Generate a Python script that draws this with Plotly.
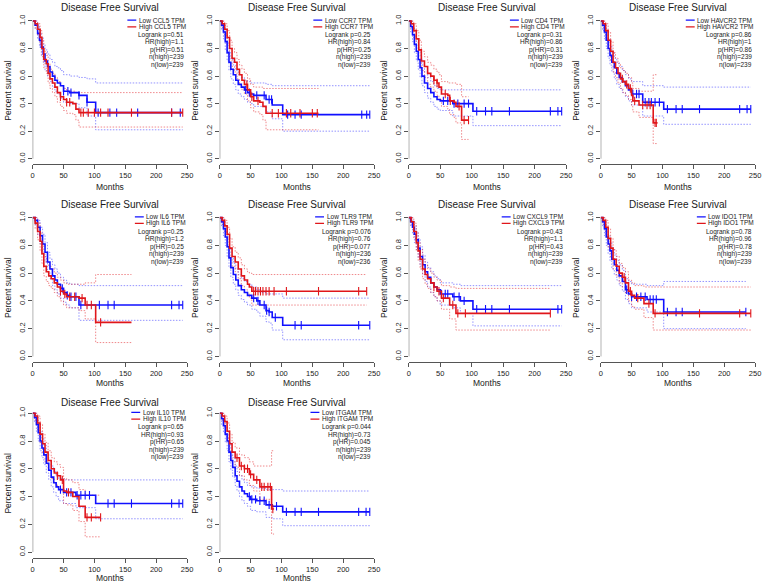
import plotly.graph_objects as go

# Kaplan-Meier "Disease Free Survival" panels (GEPIA style).
GENES = ["CCL5", "CCR7", "CD4", "HAVCR2", "IL6", "TLR9", "CXCL9", "IDO1", "IL10", "ITGAM"]

LOGRANK_P = ["0.51", "0.25", "0.31", "0.86", "0.25", "0.076", "0.43", "0.78", "0.65", "0.044"]
HR_HIGH = ["1.1", "0.84", "0.86", "1", "1.2", "0.76", "1.1", "0.96", "0.93", "0.73"]
P_HR = ["0.51", "0.25", "0.31", "0.86", "0.25", "0.077", "0.43", "0.78", "0.65", "0.045"]
N_HIGH = [239, 239, 239, 239, 239, 236, 239, 239, 239, 239]
N_LOW = [239, 239, 239, 239, 239, 236, 239, 239, 239, 239]

X_TICKS = [0, 50, 100, 150, 200, 250]
Y_TICKS = [0.0, 0.2, 0.4, 0.6, 0.8, 1.0]
Y_TICK_TEXT = ["0.0", "0.2", "0.4", "0.6", "0.8", "1.0"]

# t = months, s = survival, up/dn = 95% CI, cens = censoring times
CCL5_LOW = dict(
    t=[0, 4, 8, 11, 14, 17, 20, 24, 28, 32, 36, 40, 45, 50, 60, 75, 88, 102, 243],
    s=[1.0, 0.97, 0.91, 0.86, 0.81, 0.76, 0.71, 0.67, 0.63, 0.60, 0.57, 0.55, 0.53, 0.49, 0.48, 0.46, 0.41, 0.335, 0.335],
    up=[1.0, 1.0, 0.96, 0.92, 0.88, 0.83, 0.79, 0.76, 0.72, 0.70, 0.67, 0.66, 0.64, 0.61, 0.60, 0.59, 0.58, 0.55, 0.55],
    dn=[1.0, 0.94, 0.87, 0.81, 0.75, 0.70, 0.64, 0.60, 0.56, 0.52, 0.49, 0.47, 0.44, 0.41, 0.40, 0.37, 0.31, 0.21, 0.21],
    cens=[50, 57, 62, 75, 88, 106, 125, 136, 170, 225, 239],
)
CCL5_HIGH = dict(
    t=[0, 4, 8, 12, 15, 18, 22, 25, 28, 32, 36, 40, 45, 50, 55, 65, 70, 75, 243],
    s=[1.0, 0.98, 0.94, 0.88, 0.80, 0.72, 0.69, 0.62, 0.58, 0.55, 0.52, 0.48, 0.45, 0.43, 0.41, 0.40, 0.36, 0.335, 0.335],
    up=[1.0, 1.0, 0.98, 0.93, 0.86, 0.78, 0.75, 0.69, 0.65, 0.62, 0.59, 0.56, 0.53, 0.51, 0.49, 0.49, 0.48, 0.48, 0.48],
    dn=[1.0, 0.95, 0.90, 0.83, 0.74, 0.66, 0.62, 0.55, 0.51, 0.48, 0.45, 0.41, 0.38, 0.35, 0.33, 0.32, 0.28, 0.23, 0.23],
    cens=[45, 55, 60, 78, 82, 90, 100, 110, 122, 160, 225, 243],
)
CCR7_LOW = dict(
    t=[0, 3, 6, 9, 12, 15, 18, 22, 26, 30, 35, 40, 45, 50, 55, 75, 85, 102, 243],
    s=[1.0, 0.97, 0.92, 0.85, 0.77, 0.70, 0.65, 0.61, 0.57, 0.54, 0.52, 0.50, 0.48, 0.47, 0.46, 0.43, 0.39, 0.32, 0.32],
    up=[1.0, 1.0, 0.97, 0.91, 0.84, 0.77, 0.72, 0.68, 0.64, 0.61, 0.59, 0.57, 0.56, 0.55, 0.55, 0.54, 0.53, 0.53, 0.53],
    dn=[1.0, 0.94, 0.87, 0.79, 0.71, 0.64, 0.58, 0.54, 0.50, 0.47, 0.45, 0.43, 0.41, 0.40, 0.38, 0.34, 0.29, 0.20, 0.20],
    cens=[42, 48, 60, 72, 80, 84, 110, 122, 132, 230, 238, 243],
)
CCR7_HIGH = dict(
    t=[0, 4, 8, 12, 16, 20, 24, 28, 32, 36, 40, 45, 50, 55, 65, 70, 75, 160],
    s=[1.0, 0.98, 0.94, 0.88, 0.80, 0.73, 0.70, 0.65, 0.61, 0.57, 0.54, 0.50, 0.45, 0.42, 0.41, 0.38, 0.33, 0.33],
    up=[1.0, 1.0, 0.98, 0.93, 0.86, 0.80, 0.77, 0.72, 0.68, 0.65, 0.62, 0.58, 0.54, 0.52, 0.52, 0.51, 0.51, 0.51],
    dn=[1.0, 0.95, 0.90, 0.83, 0.74, 0.67, 0.63, 0.58, 0.54, 0.50, 0.47, 0.42, 0.37, 0.34, 0.32, 0.28, 0.21, 0.21],
    cens=[44, 52, 62, 85, 95, 108, 115, 130, 150, 158],
)
CD4_LOW = dict(
    t=[0, 3, 6, 9, 12, 15, 18, 21, 25, 30, 35, 40, 45, 50, 70, 102, 243],
    s=[1.0, 0.96, 0.90, 0.83, 0.78, 0.72, 0.66, 0.60, 0.55, 0.51, 0.48, 0.45, 0.43, 0.42, 0.40, 0.345, 0.345],
    up=[1.0, 1.0, 0.95, 0.89, 0.85, 0.79, 0.74, 0.68, 0.63, 0.59, 0.56, 0.53, 0.51, 0.50, 0.50, 0.50, 0.50],
    dn=[1.0, 0.92, 0.85, 0.77, 0.71, 0.65, 0.59, 0.53, 0.48, 0.44, 0.41, 0.38, 0.36, 0.35, 0.31, 0.24, 0.24],
    cens=[55, 62, 72, 78, 88, 95, 108, 122, 132, 160, 225, 237, 243],
)
CD4_HIGH = dict(
    t=[0, 4, 8, 12, 16, 20, 25, 30, 35, 40, 45, 48, 52, 62, 65, 72, 75, 84, 95],
    s=[1.0, 0.98, 0.93, 0.87, 0.79, 0.71, 0.67, 0.62, 0.60, 0.57, 0.55, 0.52, 0.47, 0.46, 0.42, 0.41, 0.38, 0.28, 0.28],
    up=[1.0, 1.0, 0.98, 0.93, 0.86, 0.78, 0.74, 0.70, 0.68, 0.65, 0.63, 0.61, 0.56, 0.55, 0.55, 0.55, 0.54, 0.45, 0.45],
    dn=[1.0, 0.95, 0.88, 0.81, 0.72, 0.64, 0.59, 0.54, 0.52, 0.49, 0.46, 0.43, 0.38, 0.36, 0.32, 0.30, 0.26, 0.14, 0.14],
    cens=[40, 45, 58, 66, 80, 88, 95],
)
HAVCR2_LOW = dict(
    t=[0, 3, 6, 9, 12, 15, 18, 22, 26, 30, 35, 40, 45, 50, 68, 102, 243],
    s=[1.0, 0.97, 0.92, 0.86, 0.80, 0.75, 0.70, 0.66, 0.62, 0.59, 0.56, 0.53, 0.50, 0.47, 0.41, 0.36, 0.36],
    up=[1.0, 1.0, 0.97, 0.92, 0.87, 0.82, 0.77, 0.73, 0.70, 0.67, 0.64, 0.61, 0.58, 0.56, 0.53, 0.52, 0.52],
    dn=[1.0, 0.93, 0.87, 0.80, 0.73, 0.68, 0.63, 0.58, 0.54, 0.51, 0.48, 0.45, 0.42, 0.39, 0.31, 0.25, 0.25],
    cens=[52, 58, 62, 72, 78, 82, 88, 95, 108, 122, 132, 160, 225, 237, 243],
)
HAVCR2_HIGH = dict(
    t=[0, 4, 8, 12, 16, 20, 24, 28, 32, 36, 40, 45, 50, 52, 62, 85, 92],
    s=[1.0, 0.98, 0.93, 0.86, 0.78, 0.70, 0.66, 0.62, 0.58, 0.56, 0.54, 0.51, 0.46, 0.42, 0.39, 0.26, 0.26],
    up=[1.0, 1.0, 0.98, 0.92, 0.85, 0.77, 0.73, 0.69, 0.66, 0.64, 0.62, 0.59, 0.55, 0.51, 0.49, 0.61, 0.61],
    dn=[1.0, 0.95, 0.88, 0.80, 0.71, 0.63, 0.59, 0.55, 0.51, 0.48, 0.46, 0.43, 0.38, 0.34, 0.30, 0.11, 0.11],
    cens=[35, 42, 48, 55, 68, 75, 80, 88, 90],
)
IL6_LOW = dict(
    t=[0, 4, 8, 12, 16, 20, 24, 28, 32, 36, 40, 45, 50, 55, 60, 75, 243],
    s=[1.0, 0.98, 0.93, 0.87, 0.81, 0.75, 0.68, 0.63, 0.58, 0.55, 0.52, 0.49, 0.46, 0.44, 0.43, 0.37, 0.37],
    up=[1.0, 1.0, 0.98, 0.93, 0.88, 0.82, 0.75, 0.70, 0.66, 0.63, 0.60, 0.57, 0.55, 0.53, 0.52, 0.51, 0.51],
    dn=[1.0, 0.95, 0.88, 0.81, 0.74, 0.68, 0.61, 0.56, 0.51, 0.48, 0.45, 0.42, 0.39, 0.37, 0.35, 0.26, 0.26],
    cens=[48, 56, 62, 70, 78, 108, 122, 132, 225, 237, 243],
)
IL6_HIGH = dict(
    t=[0, 4, 8, 12, 15, 18, 22, 26, 30, 35, 40, 45, 50, 55, 75, 85, 102, 160],
    s=[1.0, 0.96, 0.90, 0.83, 0.74, 0.65, 0.61, 0.58, 0.56, 0.53, 0.50, 0.47, 0.45, 0.43, 0.42, 0.37, 0.245, 0.245],
    up=[1.0, 1.0, 0.96, 0.89, 0.81, 0.72, 0.68, 0.65, 0.63, 0.60, 0.57, 0.55, 0.53, 0.52, 0.52, 0.53, 0.59, 0.59],
    dn=[1.0, 0.92, 0.84, 0.76, 0.67, 0.58, 0.54, 0.51, 0.49, 0.46, 0.43, 0.40, 0.37, 0.35, 0.33, 0.27, 0.10, 0.10],
    cens=[45, 52, 60, 68, 80, 88, 95, 110],
)
TLR9_LOW = dict(
    t=[0, 3, 6, 9, 12, 15, 18, 22, 26, 30, 35, 40, 45, 52, 60, 65, 75, 80, 85, 102, 243],
    s=[1.0, 0.97, 0.92, 0.86, 0.79, 0.71, 0.64, 0.59, 0.55, 0.51, 0.48, 0.46, 0.44, 0.42, 0.40, 0.37, 0.33, 0.32, 0.28, 0.225, 0.225],
    up=[1.0, 1.0, 0.97, 0.92, 0.86, 0.78, 0.71, 0.67, 0.63, 0.59, 0.56, 0.54, 0.52, 0.50, 0.48, 0.46, 0.45, 0.45, 0.45, 0.42, 0.42],
    dn=[1.0, 0.94, 0.87, 0.80, 0.72, 0.64, 0.57, 0.52, 0.48, 0.44, 0.41, 0.39, 0.37, 0.34, 0.32, 0.29, 0.25, 0.24, 0.19, 0.12, 0.12],
    cens=[55, 62, 72, 76, 80, 90, 122, 132, 225, 243],
)
TLR9_HIGH = dict(
    t=[0, 4, 8, 12, 16, 20, 25, 30, 35, 40, 45, 48, 52, 238],
    s=[1.0, 0.98, 0.94, 0.88, 0.78, 0.72, 0.68, 0.63, 0.58, 0.55, 0.52, 0.50, 0.47, 0.47],
    up=[1.0, 1.0, 0.98, 0.93, 0.85, 0.79, 0.75, 0.71, 0.66, 0.63, 0.61, 0.60, 0.59, 0.59],
    dn=[1.0, 0.95, 0.90, 0.83, 0.72, 0.65, 0.61, 0.56, 0.51, 0.48, 0.45, 0.42, 0.37, 0.37],
    cens=[55, 58, 62, 66, 70, 75, 80, 88, 108, 160, 225, 238],
)
CXCL9_LOW = dict(
    t=[0, 3, 6, 9, 12, 15, 18, 22, 26, 30, 35, 40, 45, 50, 70, 82, 102, 243],
    s=[1.0, 0.97, 0.93, 0.88, 0.84, 0.78, 0.72, 0.66, 0.61, 0.57, 0.53, 0.50, 0.48, 0.45, 0.43, 0.40, 0.34, 0.34],
    up=[1.0, 1.0, 0.98, 0.94, 0.90, 0.85, 0.79, 0.73, 0.68, 0.64, 0.61, 0.58, 0.56, 0.53, 0.52, 0.51, 0.51, 0.51],
    dn=[1.0, 0.94, 0.88, 0.82, 0.77, 0.71, 0.65, 0.59, 0.54, 0.50, 0.46, 0.43, 0.40, 0.37, 0.35, 0.31, 0.22, 0.22],
    cens=[52, 58, 62, 72, 80, 88, 108, 122, 132, 160, 237, 243],
)
CXCL9_HIGH = dict(
    t=[0, 4, 8, 12, 15, 18, 22, 26, 30, 35, 40, 45, 52, 65, 75, 225],
    s=[1.0, 0.97, 0.90, 0.82, 0.76, 0.70, 0.63, 0.59, 0.56, 0.53, 0.50, 0.47, 0.42, 0.37, 0.31, 0.31],
    up=[1.0, 1.0, 0.96, 0.89, 0.83, 0.77, 0.70, 0.66, 0.63, 0.60, 0.57, 0.55, 0.51, 0.50, 0.49, 0.49],
    dn=[1.0, 0.94, 0.85, 0.76, 0.69, 0.63, 0.56, 0.52, 0.49, 0.46, 0.43, 0.40, 0.34, 0.27, 0.19, 0.19],
    cens=[40, 48, 55, 70, 78, 90, 225],
)
IDO1_LOW = dict(
    t=[0, 3, 6, 9, 12, 15, 18, 22, 26, 30, 35, 40, 45, 50, 75, 102, 235],
    s=[1.0, 0.97, 0.92, 0.86, 0.81, 0.76, 0.70, 0.66, 0.62, 0.58, 0.54, 0.48, 0.45, 0.43, 0.41, 0.32, 0.32],
    up=[1.0, 1.0, 0.97, 0.92, 0.87, 0.82, 0.77, 0.73, 0.69, 0.66, 0.62, 0.56, 0.54, 0.52, 0.51, 0.54, 0.54],
    dn=[1.0, 0.94, 0.87, 0.80, 0.74, 0.69, 0.63, 0.59, 0.55, 0.51, 0.47, 0.41, 0.38, 0.35, 0.32, 0.20, 0.20],
    cens=[42, 50, 58, 65, 72, 80, 85, 90, 108, 122, 132, 235],
)
IDO1_HIGH = dict(
    t=[0, 4, 8, 12, 16, 20, 25, 30, 35, 40, 45, 50, 55, 70, 85, 243],
    s=[1.0, 0.98, 0.93, 0.85, 0.78, 0.70, 0.65, 0.60, 0.57, 0.53, 0.47, 0.44, 0.42, 0.38, 0.31, 0.31],
    up=[1.0, 1.0, 0.98, 0.92, 0.85, 0.77, 0.72, 0.67, 0.64, 0.61, 0.55, 0.53, 0.51, 0.50, 0.50, 0.50],
    dn=[1.0, 0.95, 0.88, 0.79, 0.71, 0.63, 0.58, 0.53, 0.50, 0.46, 0.40, 0.36, 0.34, 0.28, 0.19, 0.19],
    cens=[38, 48, 60, 78, 88, 160, 225, 243],
)
IL10_LOW = dict(
    t=[0, 3, 6, 9, 12, 15, 18, 22, 26, 30, 34, 38, 42, 50, 70, 102, 243],
    s=[1.0, 0.97, 0.92, 0.86, 0.80, 0.75, 0.70, 0.64, 0.59, 0.54, 0.50, 0.47, 0.45, 0.43, 0.41, 0.35, 0.35],
    up=[1.0, 1.0, 0.97, 0.92, 0.87, 0.82, 0.77, 0.71, 0.66, 0.62, 0.58, 0.55, 0.53, 0.52, 0.52, 0.52, 0.52],
    dn=[1.0, 0.94, 0.87, 0.80, 0.73, 0.68, 0.63, 0.57, 0.52, 0.47, 0.43, 0.40, 0.37, 0.35, 0.32, 0.24, 0.24],
    cens=[45, 55, 62, 72, 78, 85, 92, 122, 132, 160, 225, 237, 243],
)
IL10_HIGH = dict(
    t=[0, 4, 8, 12, 16, 20, 25, 30, 35, 40, 45, 50, 55, 65, 75, 85, 110],
    s=[1.0, 0.98, 0.93, 0.85, 0.78, 0.72, 0.66, 0.60, 0.57, 0.55, 0.52, 0.44, 0.43, 0.40, 0.33, 0.25, 0.25],
    up=[1.0, 1.0, 0.98, 0.92, 0.85, 0.79, 0.73, 0.68, 0.65, 0.63, 0.61, 0.53, 0.52, 0.50, 0.45, 0.41, 0.41],
    dn=[1.0, 0.95, 0.88, 0.79, 0.71, 0.65, 0.59, 0.53, 0.49, 0.47, 0.44, 0.35, 0.34, 0.30, 0.22, 0.11, 0.11],
    cens=[40, 48, 58, 88, 95, 110],
)
ITGAM_LOW = dict(
    t=[0, 3, 6, 9, 12, 15, 18, 21, 25, 28, 32, 36, 40, 45, 50, 60, 75, 85, 102, 243],
    s=[1.0, 0.96, 0.91, 0.85, 0.80, 0.72, 0.66, 0.61, 0.55, 0.51, 0.47, 0.44, 0.42, 0.40, 0.38, 0.37, 0.34, 0.33, 0.29, 0.29],
    up=[1.0, 1.0, 0.96, 0.91, 0.87, 0.79, 0.73, 0.68, 0.62, 0.58, 0.55, 0.52, 0.50, 0.48, 0.47, 0.46, 0.45, 0.45, 0.44, 0.44],
    dn=[1.0, 0.92, 0.86, 0.79, 0.73, 0.65, 0.59, 0.54, 0.48, 0.44, 0.40, 0.37, 0.35, 0.33, 0.30, 0.29, 0.25, 0.24, 0.19, 0.19],
    cens=[48, 52, 58, 65, 72, 80, 92, 108, 122, 132, 160, 225, 237, 243],
)
ITGAM_HIGH = dict(
    t=[0, 4, 8, 12, 16, 20, 25, 32, 40, 48, 55, 65, 84, 88],
    s=[1.0, 0.98, 0.94, 0.87, 0.78, 0.72, 0.68, 0.62, 0.60, 0.56, 0.52, 0.47, 0.31, 0.31],
    up=[1.0, 1.0, 0.98, 0.93, 0.85, 0.79, 0.75, 0.70, 0.68, 0.65, 0.62, 0.62, 0.73, 0.73],
    dn=[1.0, 0.95, 0.90, 0.82, 0.72, 0.65, 0.61, 0.55, 0.52, 0.48, 0.44, 0.38, 0.13, 0.13],
    cens=[28, 35, 40, 45, 50, 60, 68, 72, 78, 82, 86],
)

GROUPS = {
    "CCL5": (CCL5_LOW, CCL5_HIGH), "CCR7": (CCR7_LOW, CCR7_HIGH),
    "CD4": (CD4_LOW, CD4_HIGH), "HAVCR2": (HAVCR2_LOW, HAVCR2_HIGH),
    "IL6": (IL6_LOW, IL6_HIGH), "TLR9": (TLR9_LOW, TLR9_HIGH),
    "CXCL9": (CXCL9_LOW, CXCL9_HIGH), "IDO1": (IDO1_LOW, IDO1_HIGH),
    "IL10": (IL10_LOW, IL10_HIGH), "ITGAM": (ITGAM_LOW, ITGAM_HIGH),
}

# --- styling ---
W, H = 771, 588
FONT = "Liberation Sans, Arial, sans-serif"
BLUE, RED = "#1010ff", "#e0161b"
BLUE_CI, RED_CI = "rgba(60,60,255,0.55)", "rgba(225,40,45,0.55)"
AXIS_COLOR = "#555555"
TEXT_COLOR = "#1a1a1a"
# pixel position of the x=0 / x=250 axis ends for each column, top/bottom of each row's y domain
COL_PX = [(31, 187), (220, 376), (411, 570), (605, 761)]
ROW_PX = [(14.5, 163.5), (211.4, 361.6), (407.4, 557.6)]
TITLE_PX = [7, 204, 402]
MONTHS_PX = [186.5, 383, 577.5]
# legend line offsets below the y=1.0 level, in px
LEGEND_OFF = [-0.8, 5.8, 14, 21.5, 29, 36.5, 44]
LEGEND_FONT = 6.5

# Arial advance widths (em) for legend width estimates
ARIAL = {" ": .278, "H": .722, "i": .222, "g": .556, "h": .556, "L": .556, "o": .556, "w": .722,
         "C": .722, "T": .611, "P": .667, "M": .833, "R": .722, "D": .722, "A": .667, "V": .667,
         "I": .278, "X": .722, "O": .778, "G": .778}


def text_px(s, size):
    return size * sum(ARIAL.get(ch, .556) for ch in s)


def step_value(t, s, x):
    y = s[0]
    for ti, si in zip(t, s):
        if ti <= x:
            y = si
    return y


fig = go.Figure()
annotations = []
shapes = []

for i, gene in enumerate(GENES):
    r, c = divmod(i, 4)
    n = "" if i == 0 else str(i + 1)
    xa, ya = f"x{n}", f"y{n}"
    x0, x1 = COL_PX[c]
    top, bot = ROW_PX[r]
    ppm = (x1 - x0) / 250.0
    ppu = (bot - top) / 1.08

    fig.layout[f"xaxis{n}"] = dict(
        domain=[x0 / W, x1 / W], range=[0, 250], anchor=ya, tickvals=X_TICKS,
        ticks="outside", ticklen=4, tickcolor=AXIS_COLOR, showline=True, linecolor=AXIS_COLOR,
        linewidth=1, showgrid=False, zeroline=False, fixedrange=True,
        tickfont=dict(size=7.5, color=TEXT_COLOR, family=FONT),
    )
    fig.layout[f"yaxis{n}"] = dict(
        domain=[1 - bot / H, 1 - top / H], range=[-0.04, 1.04], anchor=xa,
        tickvals=Y_TICKS, ticktext=Y_TICK_TEXT, tickangle=-90, ticks="outside", ticklen=4,
        tickcolor=AXIS_COLOR, showline=False, showgrid=False, zeroline=False, fixedrange=True,
        tickfont=dict(size=7.5, color=TEXT_COLOR, family=FONT),
    )
    shapes.append(dict(type="line", xref=xa, yref=ya, x0=0, x1=0, y0=0, y1=1,
                       line=dict(color=AXIS_COLOR, width=1)))

    low, high = GROUPS[gene]
    for grp, cicol in ((low, BLUE_CI), (high, RED_CI)):
        for key in ("up", "dn"):
            fig.add_trace(go.Scatter(x=grp["t"], y=grp[key], xaxis=xa, yaxis=ya, mode="lines",
                                     line=dict(color=cicol, width=1, dash="1.5px,1.5px", shape="hv"),
                                     showlegend=False, hoverinfo="skip"))
    for grp, col in ((low, BLUE), (high, RED)):
        fig.add_trace(go.Scatter(x=grp["t"], y=grp["s"], xaxis=xa, yaxis=ya, mode="lines",
                                 line=dict(color=col, width=1.6, shape="hv"), showlegend=False))
        fig.add_trace(go.Scatter(
            x=grp["cens"], y=[step_value(grp["t"], grp["s"], v) for v in grp["cens"]],
            xaxis=xa, yaxis=ya, mode="markers", showlegend=False,
            marker=dict(symbol="line-ns", size=6, line=dict(color=col, width=1.1)),
        ))

    # panel title and axis titles
    xc = (x0 + x1) / 2 / W
    annotations.append(dict(text="Disease Free Survival", xref="paper", yref="paper", x=xc,
                            y=1 - TITLE_PX[r] / H, xanchor="center", yanchor="middle",
                            showarrow=False, font=dict(size=10, color=TEXT_COLOR, family=FONT)))
    annotations.append(dict(text="Months", xref="paper", yref="paper", x=xc,
                            y=1 - MONTHS_PX[r] / H, xanchor="center", yanchor="middle",
                            showarrow=False, font=dict(size=8.5, color=TEXT_COLOR, family=FONT)))
    annotations.append(dict(text="Percent survival", xref="paper", yref=ya, x=(x0 - 25) / W,
                            y=0.5, textangle=-90, xanchor="center", yanchor="middle",
                            showarrow=False, font=dict(size=8.5, color=TEXT_COLOR, family=FONT)))

    # legend block (top right)
    right = 246
    ys = [1.0 - off / ppu for off in LEGEND_OFF]
    label_low, label_high = f"Low {gene} TPM", f"High {gene} TPM"
    start = right - text_px(label_high, LEGEND_FONT) / ppm
    seg0, seg1 = start - 10.5 / ppm, start - 1.5 / ppm
    for k, (lab, col) in enumerate(((label_low, BLUE), (label_high, RED))):
        annotations.append(dict(text=lab, xref=xa, yref=ya, x=start, y=ys[k],
                                xanchor="left", yanchor="middle", showarrow=False, borderpad=0,
                                font=dict(size=LEGEND_FONT, color=TEXT_COLOR, family=FONT)))
        shapes.append(dict(type="line", xref=xa, yref=ya, x0=seg0, x1=seg1,
                           y0=ys[k], y1=ys[k], line=dict(color=col, width=1.3)))
    stats = [f"Logrank p={LOGRANK_P[i]}", f"HR(high)={HR_HIGH[i]}", f"p(HR)={P_HR[i]}",
             f"n(high)={N_HIGH[i]}", f"n(low)={N_LOW[i]}"]
    for k, s in enumerate(stats):
        annotations.append(dict(text=s, xref=xa, yref=ya, x=right, y=ys[k + 2],
                                xanchor="right", yanchor="middle", showarrow=False, borderpad=0,
                                font=dict(size=LEGEND_FONT, color=TEXT_COLOR, family=FONT)))

fig.update_layout(
    width=W, height=H, margin=dict(l=0, r=0, t=0, b=0),
    paper_bgcolor="white", plot_bgcolor="white",
    annotations=annotations, shapes=shapes, showlegend=False,
    font=dict(family=FONT),
)

# drop the default 8px page margin so the figure lines up with the window
fig.write_html("out.html", config={"displayModeBar": False},
               post_script="document.body.style.margin='0px';")
